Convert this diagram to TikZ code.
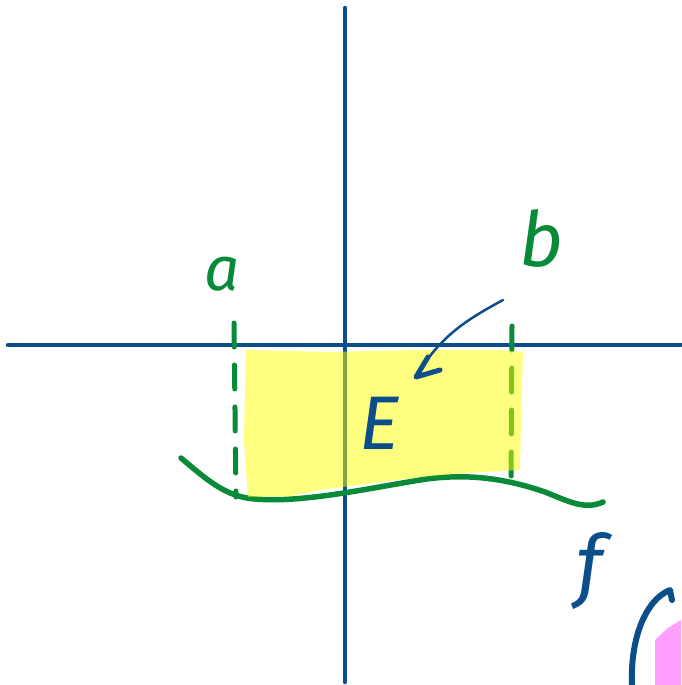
\documentclass[tikz,border=0pt]{standalone}
\usepackage{fontspec}
\setmainfont{Fira Sans}
\definecolor{axisblue}{RGB}{12,78,138}
\definecolor{pengreen}{RGB}{8,138,56}
\definecolor{hlyellow}{RGB}{255,255,0}
\definecolor{hlpink}{RGB}{255,160,255}
\tikzset{
  axis/.style={draw=axisblue, line width=4.5pt, line cap=round},
  penb/.style={draw=axisblue, line width=5pt, line cap=round, line join=round},
  peng/.style={draw=pengreen, line width=5.5pt, line cap=round, line join=round},
  gdash/.style={draw=pengreen, line width=5pt, line cap=round, dash pattern=on 24pt off 18pt},
  hl/.style={fill=hlyellow, fill opacity=0.5},
  lbl/.style={inner sep=0pt},
}
\begin{document}
\begin{tikzpicture}[x=1pt,y=-1pt]
\useasboundingbox (0,0) rectangle (681,685);
% axes
\draw[axis] (345,8) -- (345,682);
\draw[axis] (8,345) -- (681,345);
% dashed verticals
\draw[gdash] (234,323) -- (236,497);
\draw[gdash] (512,326) -- (511,492);
% wavy curve
\draw[peng] (181,458) .. controls (205,478) and (225,497) .. (255,499)
  .. controls (300,503) and (360,490) .. (420,480)
  .. controls (470,472) and (510,480) .. (545,492)
  .. controls (570,502) and (585,510) .. (603,502);
% yellow highlight
\fill[hl] (246,350) -- (330,352) -- (420,350) -- (500,350) -- (523,352)
  -- (521,420) -- (520,470) -- (480,472) -- (430,476) -- (380,482)
  -- (320,490) -- (290,496) -- (248,497) -- (244,440) -- (245,390) -- cycle;
% labels
\node[lbl, text=pengreen, font=\itshape\fontsize{62}{62}\selectfont, anchor=base] (la) at (222,290) {a};
\node[lbl, text=pengreen, font=\itshape\fontsize{76}{76}\selectfont, anchor=base] (lb) at (541,266) {b};
\node[lbl, text=axisblue, font=\itshape\fontsize{76}{76}\selectfont, anchor=base] (lE) at (380,449) {E};
\node[lbl, text=axisblue, font=\itshape\fontsize{80}{80}\selectfont, anchor=base] (lf) at (590,592) {f};
% arrow from b to E
\coordinate (arrs) at (503,300);
\coordinate (arre) at (416,377);
\draw[draw=axisblue, line width=2.5pt, line cap=round] (arrs) .. controls (470,318) and (440,335) .. (arre);
\draw[penb] (428,357) -- (416,377) -- (440,370);
% bottom right
\fill[hlpink] (655,640) -- (668,628) -- (681,620) -- (681,685) -- (655,685) -- cycle;
\draw[penb, line width=6pt] (632,685) .. controls (630,640) and (645,600) .. (670,590) -- (672,600);
\end{tikzpicture}
\end{document}
